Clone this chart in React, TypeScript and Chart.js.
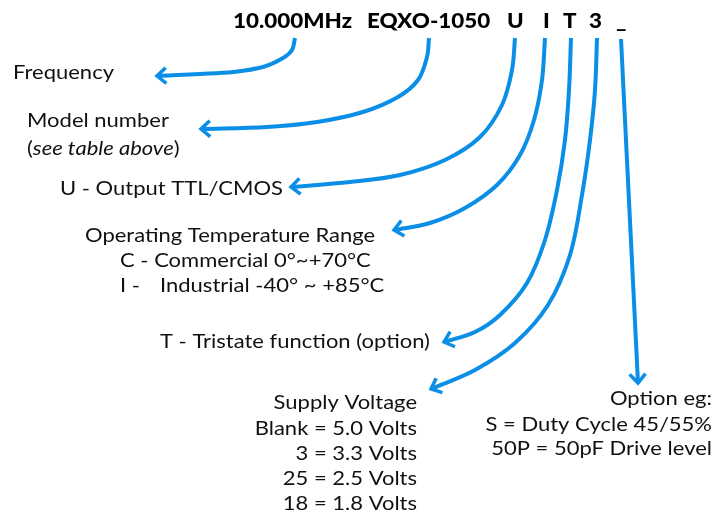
import { useEffect, useRef } from "react";
import { Chart, registerables } from "chart.js";

Chart.register(...registerables);

const BLUE = "#0a8ee6";
const FONT = "Lato, 'Noto Sans', sans-serif";
const TEXT_COLOR = "#111111";
const STRETCH = 1.1;
const TITLE_STRETCH = 1.12;

// Arrow paths (diagram coordinates: x 0..728, y 0..514 from top)
const freqArrow = [[295, 38], [292, 50], [283, 58], [263, 67], [233, 72], [200, 74], [157, 76]];
const modelArrow = [[429, 38], [427, 57], [418, 80], [398, 97], [363, 112], [317, 122], [267, 127], [201, 129]];
const outputArrow = [[515, 38], [512, 70], [502, 105], [480, 137], [445, 160], [400, 175], [350, 182], [291, 187]];
const tempArrow = [[545, 38], [542, 80], [534, 120], [520, 155], [497, 185], [465, 208], [430, 223], [394, 230]];
const tristateArrow = [[571, 38], [569, 90], [565, 140], [557, 190], [545, 240], [527, 283], [500, 315], [475, 332], [444, 342]];
const supplyArrow = [[597, 38], [595, 90], [590, 140], [582, 195], [570, 255], [548, 305], [515, 343], [475, 370], [431, 389]];
const optionArrow = [[621, 39], [638, 383]];

const arrows = [freqArrow, modelArrow, outputArrow, tempArrow, tristateArrow, supplyArrow, optionArrow];

// Title (part number)
const titleParts = ["10.000MHz", "EQXO-1050", "U", "I", "T", "3", "_"];
const titleX = [233, 367, 507, 543, 563, 589, 616];
const titleY = 28;

type Seg = { t: string; i?: boolean };
type Label = { x: number; y: number; align: "left" | "right"; segs: Seg[] };

const labels: Label[] = [
  { x: 13, y: 79, align: "left", segs: [{ t: "Frequency" }] },
  { x: 27, y: 127, align: "left", segs: [{ t: "Model number" }] },
  { x: 27, y: 155, align: "left", segs: [{ t: "(" }, { t: "see table above", i: true }, { t: ")" }] },
  { x: 60, y: 195, align: "left", segs: [{ t: "U - Output TTL/CMOS" }] },
  { x: 85, y: 242, align: "left", segs: [{ t: "Operating Temperature Range" }] },
  { x: 120, y: 267, align: "left", segs: [{ t: "C - Commercial 0°~+70°C" }] },
  { x: 120, y: 292, align: "left", segs: [{ t: "I -" }] },
  { x: 160, y: 292, align: "left", segs: [{ t: "Industrial -40° ~ +85°C" }] },
  { x: 160, y: 348, align: "left", segs: [{ t: "T - Tristate function (option)" }] },
  { x: 417, y: 409, align: "right", segs: [{ t: "Supply Voltage" }] },
  { x: 417, y: 435, align: "right", segs: [{ t: "Blank = 5.0 Volts" }] },
  { x: 417, y: 460, align: "right", segs: [{ t: "3 = 3.3 Volts" }] },
  { x: 417, y: 485, align: "right", segs: [{ t: "25 = 2.5 Volts" }] },
  { x: 417, y: 510, align: "right", segs: [{ t: "18 = 1.8 Volts" }] },
  { x: 712, y: 405, align: "right", segs: [{ t: "Option eg:" }] },
  { x: 712, y: 431, align: "right", segs: [{ t: "S = Duty Cycle 45/55%" }] },
  { x: 712, y: 455, align: "right", segs: [{ t: "50P = 50pF Drive level" }] },
];

function drawStretched(ctx: CanvasRenderingContext2D, t: string, x: number, y: number, k: number) {
  ctx.save();
  ctx.translate(x, y);
  ctx.scale(k, 1);
  ctx.fillText(t, 0, 0);
  ctx.restore();
}

const overlay = {
  id: "overlay",
  afterDatasetsDraw(chart: any) {
    const { ctx } = chart;
    const xs = chart.scales.x;
    const ys = chart.scales.y;
    ctx.save();
    // arrowheads
    chart.data.datasets.forEach((_ds: any, i: number) => {
      const pts = chart.getDatasetMeta(i).data as any[];
      const last = pts[pts.length - 1];
      const prev = pts[pts.length - 2];
      let fx = last.cp1x ?? prev.x;
      let fy = last.cp1y ?? prev.y;
      if (Math.hypot(last.x - fx, last.y - fy) < 2) {
        fx = prev.x;
        fy = prev.y;
      }
      const ang = Math.atan2(last.y - fy, last.x - fx);
      const len = 12;
      const spread = 0.72;
      ctx.beginPath();
      ctx.moveTo(last.x - len * Math.cos(ang - spread), last.y - len * Math.sin(ang - spread));
      ctx.lineTo(last.x, last.y);
      ctx.lineTo(last.x - len * Math.cos(ang + spread), last.y - len * Math.sin(ang + spread));
      ctx.strokeStyle = BLUE;
      ctx.lineWidth = 3.5;
      ctx.lineJoin = "miter";
      ctx.lineCap = "butt";
      ctx.stroke();
    });

    // title
    ctx.fillStyle = "#000";
    ctx.textBaseline = "alphabetic";
    ctx.textAlign = "left";
    ctx.font = `900 20px ${FONT}`;
    titleParts.forEach((t, i) => {
      drawStretched(ctx, t, xs.getPixelForValue(titleX[i]), ys.getPixelForValue(titleY), TITLE_STRETCH);
    });

    // labels
    ctx.fillStyle = TEXT_COLOR;
    labels.forEach((l) => {
      const widths = l.segs.map((s) => {
        ctx.font = `${s.i ? "italic " : ""}20px ${FONT}`;
        return ctx.measureText(s.t).width * STRETCH;
      });
      const total = widths.reduce((a, b) => a + b, 0);
      let px = xs.getPixelForValue(l.x) - (l.align === "right" ? total : 0);
      const py = ys.getPixelForValue(l.y);
      l.segs.forEach((s, k) => {
        ctx.font = `${s.i ? "italic " : ""}20px ${FONT}`;
        drawStretched(ctx, s.t, px, py, STRETCH);
        px += widths[k];
      });
    });
    ctx.restore();
  },
};

export default function App() {
  const ref = useRef<HTMLCanvasElement>(null);
  useEffect(() => {
    if (!ref.current) return;
    const chart = new Chart(ref.current, {
      type: "line",
      data: {
        datasets: arrows.map((a) => ({
          data: a.map(([x, y]) => ({ x, y })),
          borderColor: BLUE,
          borderWidth: 4,
          pointRadius: 0,
          tension: 0.35,
          fill: false,
          borderCapStyle: "butt" as const,
        })),
      },
      options: {
        animation: false,
        responsive: true,
        maintainAspectRatio: false,
        layout: { padding: 0 },
        plugins: { legend: { display: false }, tooltip: { enabled: false } },
        events: [],
        scales: {
          x: { type: "linear", min: 0, max: 728, display: false },
          y: { type: "linear", min: 0, max: 514, reverse: true, display: false },
        },
      },
      plugins: [overlay],
    });
    return () => chart.destroy();
  }, []);
  return (
    <div style={{ position: "fixed", left: 0, top: 0, width: 728, height: 514, background: "#fff" }}>
      <canvas ref={ref} />
    </div>
  );
}
